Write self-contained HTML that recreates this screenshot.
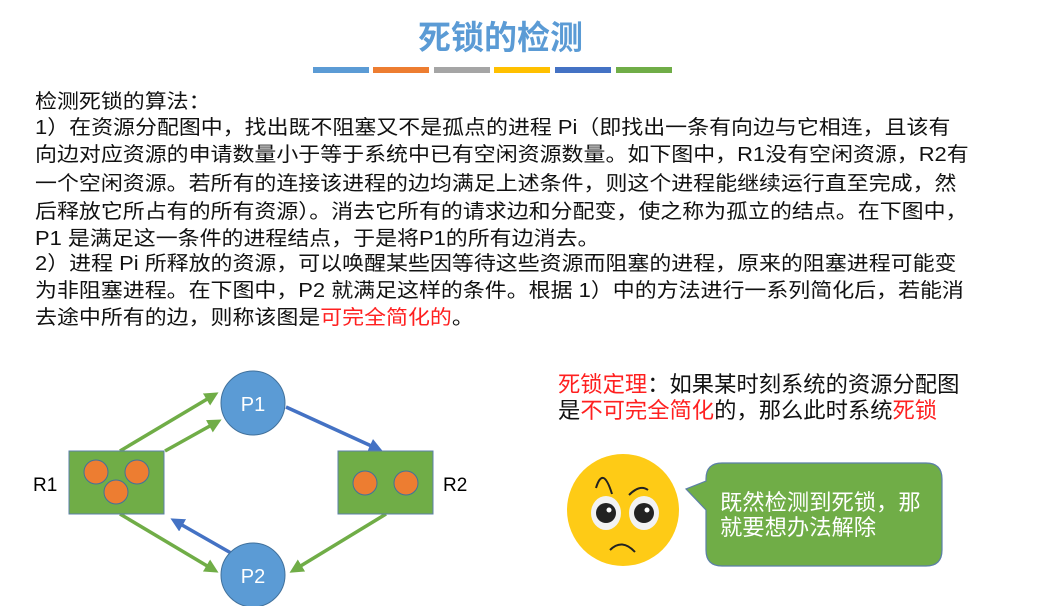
<!DOCTYPE html>
<html><head><meta charset="utf-8"><style>
body{margin:0;width:1037px;height:606px;background:#fff;position:relative;overflow:hidden;font-family:"Liberation Sans","Noto Sans CJK SC",sans-serif;}
.t{position:absolute;left:35px;font-size:20px;color:#111;white-space:nowrap;line-height:22px;transform:scaleX(1.097);transform-origin:0 0;}
.r{color:#ff2020}
</style></head><body>
<div style="position:absolute;left:418px;top:11px;font-size:33px;font-weight:bold;color:#5b9bd5;white-space:nowrap">死锁的检测</div>
<div style="position:absolute;top:67px;left:313px;width:56px;height:6px;background:#5b9bd5"></div>
<div style="position:absolute;top:67px;left:373px;width:56px;height:6px;background:#ed7d31"></div>
<div style="position:absolute;top:67px;left:434px;width:56px;height:6px;background:#a5a5a5"></div>
<div style="position:absolute;top:67px;left:494px;width:56px;height:6px;background:#ffc000"></div>
<div style="position:absolute;top:67px;left:555px;width:56px;height:6px;background:#4472c4"></div>
<div style="position:absolute;top:67px;left:616px;width:56px;height:6px;background:#70ad47"></div>
<div class="t" style="top:91px">检测死锁的算法：</div>
<div class="t" style="top:117px">1）在资源分配图中，找出既不阻塞又不是孤点的进程 Pi（即找出一条有向边与它相连，且该有</div>
<div class="t" style="top:144px">向边对应资源的申请数量小于等于系统中已有空闲资源数量。如下图中，R1没有空闲资源，R2有</div>
<div class="t" style="top:173px">一个空闲资源。若所有的连接该进程的边均满足上述条件，则这个进程能继续运行直至完成，然</div>
<div class="t" style="top:201px">后释放它所占有的所有资源）。消去它所有的请求边和分配变，使之称为孤立的结点。在下图中，</div>
<div class="t" style="top:228px">P1 是满足这一条件的进程结点，于是将P1的所有边消去。</div>
<div class="t" style="top:253px">2）进程 Pi 所释放的资源，可以唤醒某些因等待这些资源而阻塞的进程，原来的阻塞进程可能变</div>
<div class="t" style="top:280px">为非阻塞进程。在下图中，P2 就满足这样的条件。根据 1）中的方法进行一系列简化后，若能消</div>
<div class="t" style="top:307px">去途中所有的边，则称该图是<span class="r">可完全简化的</span>。</div>

<svg width="1037" height="606" style="position:absolute;left:0;top:0">
<defs>
<marker id="ag" markerWidth="4" markerHeight="4" refX="2.5" refY="2" orient="auto"><path d="M0,0L4,2L0,4z" fill="#70ad47"/></marker>
<marker id="ab" markerWidth="4" markerHeight="4" refX="2.5" refY="2" orient="auto"><path d="M0,0L4,2L0,4z" fill="#4472c4"/></marker>
</defs>
<g stroke-width="3.5">
<line x1="120" y1="451" x2="214" y2="395" stroke="#70ad47" marker-end="url(#ag)"/>
<line x1="165" y1="451" x2="217" y2="422" stroke="#70ad47" marker-end="url(#ag)"/>
<line x1="120" y1="514" x2="214" y2="570" stroke="#70ad47" marker-end="url(#ag)"/>
<line x1="386" y1="514" x2="294" y2="570" stroke="#70ad47" marker-end="url(#ag)"/>
<line x1="286" y1="407" x2="378" y2="449" stroke="#4472c4" marker-end="url(#ab)"/>
<line x1="231" y1="553" x2="175" y2="521" stroke="#4472c4" marker-end="url(#ab)"/>
</g>
<rect x="69" y="451" width="95" height="63" fill="#70ad47" stroke="#5b7fa8"/>
<rect x="338" y="451" width="95" height="63" fill="#70ad47" stroke="#5b7fa8"/>
<g fill="#ed7d31" stroke="#41719c">
<circle cx="96" cy="472" r="12"/><circle cx="137" cy="472" r="12"/><circle cx="116" cy="492" r="12"/>
<circle cx="365" cy="483" r="12"/><circle cx="406" cy="483" r="12"/>
</g>
<circle cx="253" cy="403" r="32" fill="#5b9bd5" stroke="#41719c"/>
<circle cx="253" cy="575" r="32" fill="#5b9bd5" stroke="#41719c"/>
<text x="253" y="411" fill="#fff" font-size="20" text-anchor="middle" font-family="Liberation Sans">P1</text>
<text x="253" y="583" fill="#fff" font-size="20" text-anchor="middle" font-family="Liberation Sans">P2</text>
<text x="33" y="491" fill="#000" font-size="19" font-family="Liberation Sans">R1</text>
<text x="443" y="491" fill="#000" font-size="19" font-family="Liberation Sans">R2</text>
<circle cx="623" cy="510" r="56" fill="#fecb16"/>
<ellipse cx="606" cy="513" rx="15" ry="17" fill="#f2f2f2"/>
<ellipse cx="644" cy="513" rx="15" ry="17" fill="#f2f2f2"/>
<circle cx="606" cy="513" r="10" fill="#222"/><circle cx="644" cy="513" r="10" fill="#222"/>
<circle cx="609" cy="510" r="2.5" fill="#fff"/><circle cx="647" cy="510" r="2.5" fill="#fff"/>
<path d="M596,488 Q603,465 612,494" stroke="#222" stroke-width="2" fill="none"/>
<path d="M629,495 Q640,484 648,490" stroke="#222" stroke-width="2" fill="none"/>
<path d="M610,550 Q622,538 635,552" stroke="#222" stroke-width="2" fill="none"/>
<path d="M722,463 H926 Q942,463 942,479 V550 Q942,566 926,566 H722 Q706,566 706,550 V510 L686,489 L706,481 V479 Q706,463 722,463 Z" fill="#70ad47" stroke="#5b7fa8" stroke-width="1.2"/>
</svg>
<div style="position:absolute;left:720px;top:490px;font-size:22.3px;line-height:25px;color:#fff;white-space:nowrap">既然检测到死锁，那<br>就要想办法解除</div>
<div style="position:absolute;left:558px;top:372px;font-size:22.3px;line-height:26px;color:#111;white-space:nowrap"><span class="r">死锁定理</span>：如果某时刻系统的资源分配图<br>是<span class="r">不可完全简化</span>的，那么此时系统<span class="r">死锁</span></div>
</body></html>
